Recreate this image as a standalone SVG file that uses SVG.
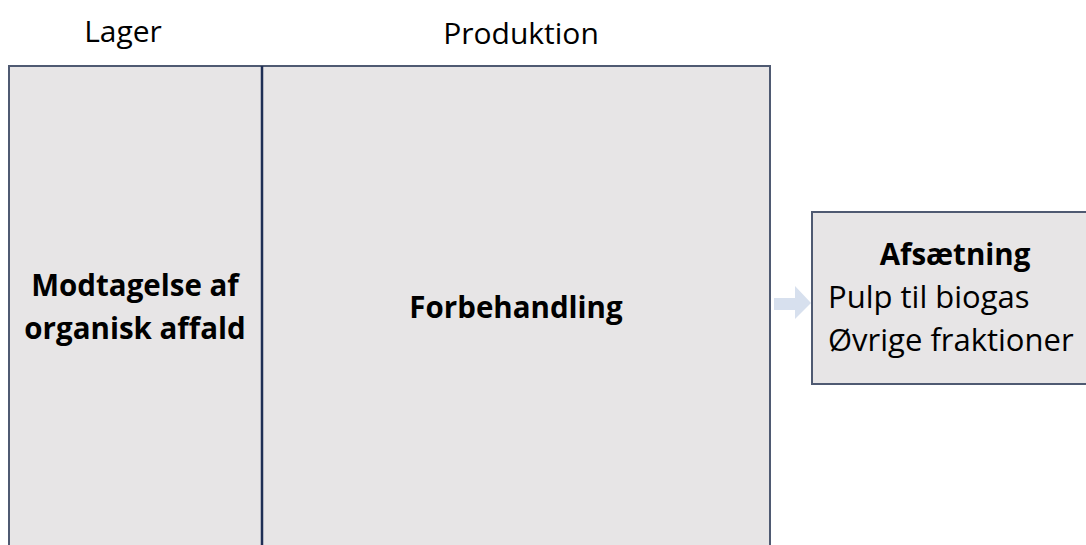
<svg xmlns="http://www.w3.org/2000/svg" width="1086" height="545" viewBox="0 0 1086 545">
<style>
.box{fill:#e7e5e6;stroke:#4f5a72;stroke-width:2}
.div{stroke:#1f2f55;stroke-width:2.5}
text{font-family:"Open Sans","Noto Sans","Liberation Sans",sans-serif;fill:#000}
.h{font-size:30px;text-anchor:middle}
.b{font-size:29.5px;font-weight:bold;text-anchor:middle}
.t{font-size:31px}
</style>
<rect width="1086" height="545" fill="#fff"/>
<text class="h" x="123" y="42">Lager</text>
<text class="h" x="521" y="44">Produktion</text>
<g id="lager">
<rect class="box" x="9" y="66" width="253" height="500"/>
<text class="b" x="135" y="296">Modtagelse af</text>
<text class="b" x="135" y="339">organisk affald</text>
</g>
<g id="forbehandling">
<rect class="box" x="262" y="66" width="508" height="500"/>
<line class="div" x1="262" y1="66" x2="262" y2="545"/>
<text class="b" x="516" y="318">Forbehandling</text>
</g>
<g id="connectors">
<polygon points="774,298 795,298 795,286 811,303 795,319 795,310 774,310" fill="#d7e0ee"/>
</g>
<g id="afsaetning">
<rect class="box" x="812" y="212" width="300" height="172"/>
<text class="b" x="955" y="265">Afsætning</text>
<text class="t" x="828" y="308">Pulp til biogas</text>
<text class="t" x="828" y="351">Øvrige fraktioner</text>
</g>
</svg>
